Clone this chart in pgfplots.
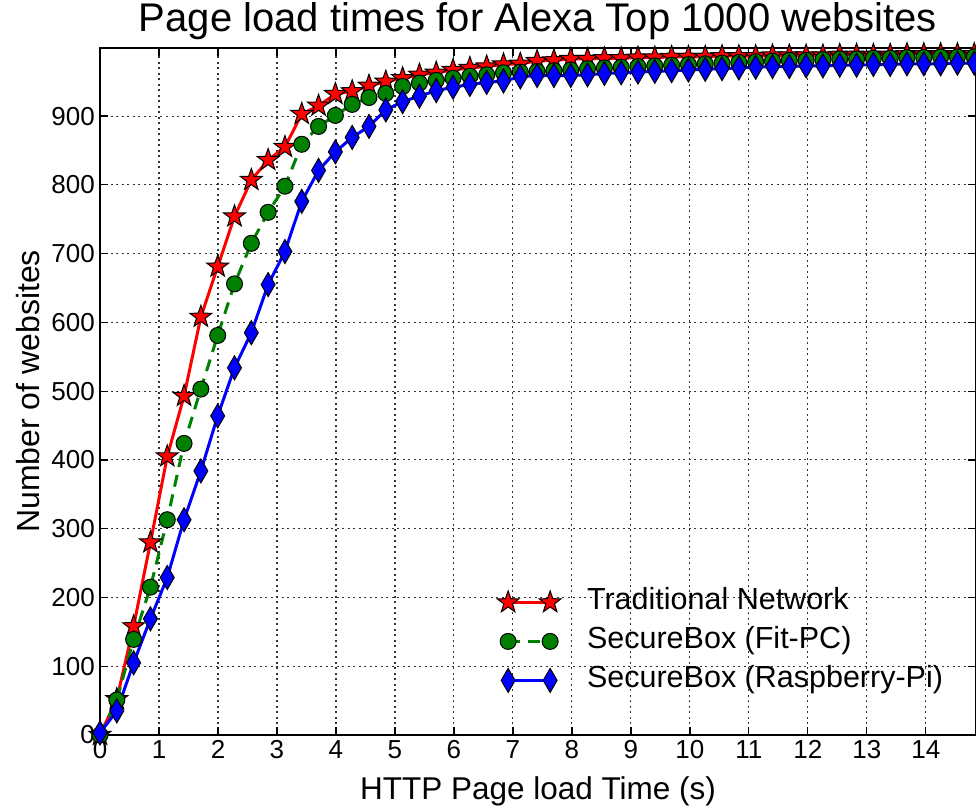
\documentclass[border=0pt]{standalone}
\usepackage{fontspec}
\setmainfont{Liberation Sans}
\usepackage{pgfplots}
\usepackage{pgfplotstable}
\pgfplotsset{compat=1.18}

\pgfdeclareplotmark{fstar}{%
 \pgfpathmoveto{\pgfpointpolar{90}{\pgfplotmarksize}}%
 \pgfpathlineto{\pgfpointpolar{126}{0.40\pgfplotmarksize}}%
 \pgfpathlineto{\pgfpointpolar{162}{\pgfplotmarksize}}%
 \pgfpathlineto{\pgfpointpolar{198}{0.40\pgfplotmarksize}}%
 \pgfpathlineto{\pgfpointpolar{234}{\pgfplotmarksize}}%
 \pgfpathlineto{\pgfpointpolar{270}{0.40\pgfplotmarksize}}%
 \pgfpathlineto{\pgfpointpolar{306}{\pgfplotmarksize}}%
 \pgfpathlineto{\pgfpointpolar{342}{0.40\pgfplotmarksize}}%
 \pgfpathlineto{\pgfpointpolar{18}{\pgfplotmarksize}}%
 \pgfpathlineto{\pgfpointpolar{54}{0.40\pgfplotmarksize}}%
 \pgfpathclose
 \pgfusepathqfillstroke}

\pgfdeclareplotmark{tdiam}{%
 \pgfpathmoveto{\pgfqpoint{0pt}{\pgfplotmarksize}}%
 \pgfpathlineto{\pgfqpoint{0.58\pgfplotmarksize}{0pt}}%
 \pgfpathlineto{\pgfqpoint{0pt}{-\pgfplotmarksize}}%
 \pgfpathlineto{\pgfqpoint{-0.58\pgfplotmarksize}{0pt}}%
 \pgfpathclose
 \pgfusepathqfillstroke}

\definecolor{mplgreen}{rgb}{0,0.5,0}

\pgfplotstableread{
x t f r
0.000 0 0 3
0.285 52 51 35
0.570 158 139 105
0.855 280 215 169
1.140 405 313 229
1.425 493 424 313
1.710 608 503 384
1.995 681 581 464
2.280 754 656 534
2.565 807 715 585
2.850 836 760 655
3.135 855 798 703
3.420 903 859 776
3.705 915 885 821
3.990 932 901 848
4.275 936 917 869
4.560 944 927 885
4.845 950 933 909
5.130 955 943 921
5.415 960 948 929
5.700 963 952 937
5.985 967 955 942
6.270 970 958 946
6.555 972 960 949
6.840 975 963 951
7.125 976 964 957
7.410 980 965 959
7.695 981 966 959
7.980 983 967 959
8.265 983 969 960
8.550 984 970 962
8.835 984 971 963
9.120 985 972 964
9.405 985 973 965
9.690 986 974 966
9.975 986 975 967
10.260 986 976 968
10.545 987 977 969
10.830 987 978 970
11.115 987 979 971
11.400 988 980 972
11.685 988 981 972
11.970 988 981 973
12.255 988 982 973
12.540 989 983 974
12.825 989 983 974
13.110 989 984 975
13.395 989 984 975
13.680 990 985 976
13.965 990 985 976
14.250 990 986 976
14.535 990 986 977
14.820 990 986 977
}\data

\begin{document}
\begin{tikzpicture}
\begin{axis}[
  scale only axis,
  width=876pt, height=687pt,
  xmin=0, xmax=14.85, ymin=0, ymax=999,
  xtick={0,1,...,14},
  ytick={0,100,...,900},
  /pgf/number format/assume math mode=true,
  tick label style={font=\fontsize{26}{30}\selectfont},
  xticklabel style={anchor=north, yshift=-3pt, inner sep=2pt},
  yticklabel style={anchor=east, xshift=-3pt, inner sep=2pt},
  tick align=inside,
  major tick length=8pt,
  tick style={black, line width=1.2pt},
  axis line style={black, line width=2pt},
  grid=major,
  major grid style={black!80, line width=1.1pt, dash pattern=on 2pt off 3.5pt},
  title={Page load times for Alexa Top 1000 websites},
  title style={font=\fontsize{40}{46}\selectfont, at={(axis description cs:0.5,1)}, anchor=base, yshift=10pt},
  xlabel={HTTP Page load Time (s)},
  xlabel style={font=\fontsize{31.5}{36}\selectfont, at={(axis description cs:0.5,0)}, anchor=base, yshift=-64pt},
  ylabel={Number of websites},
  every axis y label/.style={font=\fontsize{32}{36}\selectfont, at={(axis description cs:-0.082,0.5)}, rotate=90, anchor=center},
  legend image code/.code={\draw[#1,mark repeat=1,mark phase=1] plot coordinates {(0pt,0pt) (42pt,0pt)};},
  legend cell align=left,
  legend style={draw=none, fill=none, at={(axis cs:6.73,212)}, anchor=north west, inner sep=0pt,
    font=\fontsize{30.5}{34}\selectfont, row sep=13pt, column sep=26pt,
    nodes={inner sep=0pt, text height=20pt, text depth=6pt}},
]
\addplot[red, line width=3pt, mark=fstar, mark size=11.5pt,
  mark options={solid, fill=red, draw=black, line width=1pt}] table[x=x,y=t] {\data};
\addlegendentry{Traditional Network}
\addplot[mplgreen, line width=3pt, dash pattern=on 12pt off 8pt, mark=*, mark size=8pt,
  mark options={solid, fill=mplgreen, draw=black, line width=1pt}] table[x=x,y=f] {\data};
\addlegendentry{SecureBox (Fit-PC)}
\addplot[blue, line width=3pt, mark=tdiam, mark size=12pt,
  mark options={solid, fill=blue, draw=black, line width=1pt}] table[x=x,y=r] {\data};
\addlegendentry{SecureBox (Raspberry-Pi)}
\coordinate (bl) at (rel axis cs:0,0);
\coordinate (tr) at (rel axis cs:1,1);
\end{axis}
\pgfresetboundingbox
\path[use as bounding box] ([xshift=-100pt,yshift=-73pt]bl) rectangle ([yshift=48pt]tr);
\end{tikzpicture}
\end{document}
